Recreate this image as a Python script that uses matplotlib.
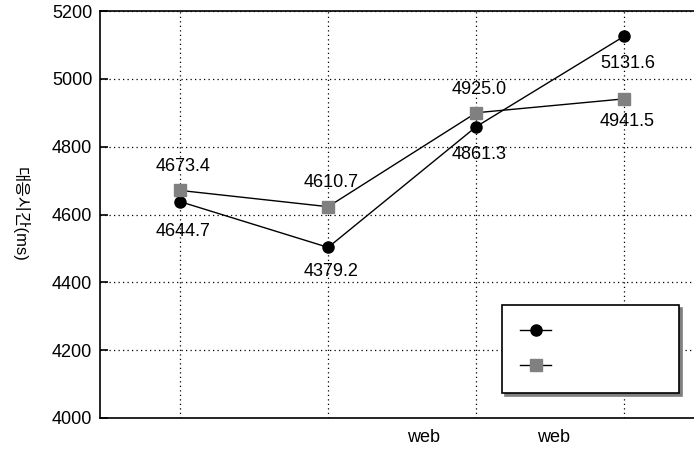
import numpy as np
import matplotlib
matplotlib.use("Agg")
import matplotlib.pyplot as plt

plt.rcParams["font.family"] = ["Liberation Sans", "Noto Sans CJK KR", "DejaVu Sans"]

# ── data ────────────────────────────────────────────────────────────────────
categories = ["", "", "web", "web"]
series_a = [4638, 4503, 4859, 5126]          # black circles, plotted height
series_b = [4671, 4623, 4900, 4941]          # grey squares, plotted height
labels_a = ["4644.7", "4379.2", "4861.3", "5131.6"]
labels_b = ["4673.4", "4610.7", "4925.0", "4941.5"]
y_ticks = [4000, 4200, 4400, 4600, 4800, 5000, 5200]
y_label = "대응시간(ms)"

# label offsets in pixels (style only)
off_a = [-30, -24, -28, -27]
off_b = [24, 24, 23, -23]
xlabel_shift = [0, 0, -53, -71]

W, H = 694, 453
fig = plt.figure(figsize=(W / 100, H / 100), dpi=100)
ax = fig.add_axes([100 / W, 1 - 418 / H, 594 / W, 407 / H])

x = np.arange(len(categories))
ax.plot(x, series_a, "-o", color="black", lw=1, ms=8, label=" ", zorder=3)
ax.plot(x, series_b, "-s", color="black", mfc="#808080", mec="#808080",
        lw=1, ms=8.5, label=" ", zorder=3)

for xi, yi, t, dy in zip(x, series_a, labels_a, off_a):
    ax.annotate(t, (xi, yi), xytext=(3, dy), textcoords="offset pixels",
                ha="center", va="center", fontsize=13)
for xi, yi, t, dy in zip(x, series_b, labels_b, off_b):
    ax.annotate(t, (xi, yi), xytext=(3, dy), textcoords="offset pixels",
                ha="center", va="center", fontsize=13)

ax.set_xlim(-0.54, 3.47)
ax.set_ylim(4000, 5200)
ax.set_yticks(y_ticks)
ax.set_xticks(x)
ax.set_xticklabels([])
# category labels sit left of their grid line in the original
for xi, cat, dx in zip(x, categories, xlabel_shift):
    ax.annotate(cat, (xi, 0), xycoords=ax.get_xaxis_transform(),
                xytext=(dx, -20), textcoords="offset pixels",
                ha="center", va="center", fontsize=13, annotation_clip=False)

ax.tick_params(axis="y", direction="in", length=5.8, width=1.2, labelsize=13, pad=5.5)
ax.tick_params(axis="x", length=0)

ax.grid(True, color="black", linestyle=(0, (1, 2.6)), linewidth=0.9)
ax.set_axisbelow(True)
for s in ["left", "top", "bottom"]:
    ax.spines[s].set_linewidth(1.2)
ax.spines["right"].set_visible(False)

ax.set_ylabel(y_label, rotation=270, fontsize=12, va="center", ha="center")
ax.yaxis.set_label_coords(-80 / 594, 0.5)

leg = ax.legend(loc="lower left", bbox_to_anchor=(0.677, 0.061, 0.298, 0.222),
                mode="expand", fontsize=13, frameon=True, fancybox=False,
                shadow={"color": "#808080", "alpha": 1}, borderpad=1.0,
                labelspacing=1.0, handlelength=1.7, borderaxespad=0)
leg.get_frame().set_edgecolor("black")
leg.get_frame().set_linewidth(1.2)

plt.savefig("out.png", dpi=100)
plt.close()
